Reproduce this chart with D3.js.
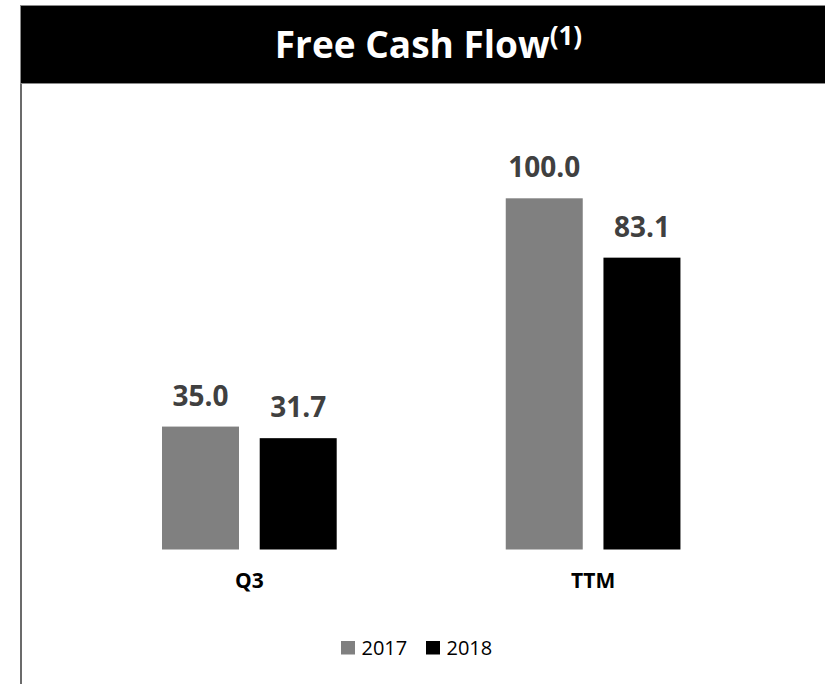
<!DOCTYPE html>
<html>
<head>
<meta charset="utf-8">
<script src="https://cdn.jsdelivr.net/npm/d3@7"></script>
<style>
  html, body { margin: 0; padding: 0; background: #fff; }
  svg { display: block; }
</style>
</head>
<body>
<svg id="chart" width="825" height="684"></svg>
<script>
const categories = ["Q3", "TTM"];
const seriesNames = ["2017", "2018"];
const values2017 = [35.0, 100.0];
const values2018 = [31.7, 83.1];
const seriesColors = ["#808080", "#000000"];
const titleText = "Free Cash Flow";
const titleSup = "(1)";

const svg = d3.select("#chart");
const W = 825, H = 684;
const font = "'Open Sans', 'Liberation Sans', sans-serif";

// header band
svg.append("rect").attr("x", 20.5).attr("y", 5.5).attr("width", 820).attr("height", 78)
  .attr("fill", "#000").attr("stroke", "#8a8a8a").attr("stroke-width", 1);
// left frame line
svg.append("line").attr("x1", 21).attr("x2", 21).attr("y1", 84).attr("y2", H)
  .attr("stroke", "#3a3a3a").attr("stroke-width", 1.5);

// title
const title = svg.append("text").attr("x", 428.5).attr("y", 57.5)
  .attr("text-anchor", "middle").attr("fill", "#fff")
  .style("font-family", font).style("font-weight", 700).style("font-size", "37px");
title.append("tspan").text(titleText);
title.append("tspan").attr("dy", -13).style("font-size", "26px").text(titleSup);

// scales
const y = d3.scaleLinear().domain([0, 100]).range([549.5, 198.3]);
const x0 = d3.scaleBand().domain(categories).range([77.5, 765]).padding(0);
const x1 = d3.scaleBand().domain(seriesNames)
  .range([84.5, 259.2]).paddingInner(0.212).paddingOuter(0);

const data = categories.map((c, i) => ({
  cat: c,
  vals: [{s: seriesNames[0], v: values2017[i]}, {s: seriesNames[1], v: values2018[i]}]
}));

const groups = svg.append("g").selectAll("g").data(data).join("g")
  .attr("transform", d => `translate(${x0(d.cat)},0)`);

groups.selectAll("rect").data(d => d.vals).join("rect")
  .attr("x", d => x1(d.s))
  .attr("width", x1.bandwidth())
  .attr("y", d => y(d.v))
  .attr("height", d => y(0) - y(d.v))
  .attr("fill", (d, i) => seriesColors[i]);

groups.selectAll("text.val").data(d => d.vals).join("text")
  .attr("class", "val")
  .attr("x", d => x1(d.s) + x1.bandwidth() / 2)
  .attr("y", d => y(d.v) - 21)
  .attr("text-anchor", "middle")
  .attr("fill", "#404040")
  .style("font-family", font).style("font-weight", 700).style("font-size", "28px")
  .text(d => d3.format(".1f")(d.v));

// category axis labels
const xAxis = d3.axisBottom(x0).tickSize(0).tickPadding(0);
const axG = svg.append("g").attr("transform", `translate(0,${y(0)})`).call(xAxis);
axG.select(".domain").remove();
axG.selectAll("text")
  .attr("y", 38).attr("dy", null)
  .attr("fill", "#000")
  .style("font-family", font).style("font-weight", 700).style("font-size", "21px");

// legend
const legendX = [341, 426];
const leg = svg.append("g").selectAll("g").data(seriesNames).join("g")
  .attr("transform", (d, i) => `translate(${legendX[i]},641)`);
leg.append("rect").attr("width", 14).attr("height", 13.5)
  .attr("fill", (d, i) => seriesColors[i]);
leg.append("text").attr("x", 20.5).attr("y", 13.5)
  .attr("fill", "#000")
  .style("font-family", font).style("font-size", "20px")
  .text(d => d);
</script>
</body>
</html>
